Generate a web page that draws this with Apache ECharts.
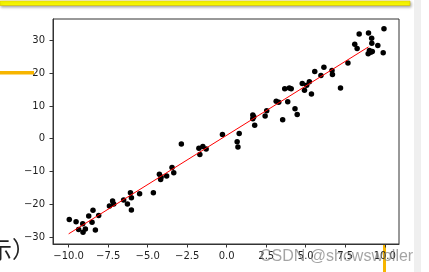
<!DOCTYPE html>
<html>
<head>
<meta charset="utf-8">
<script src="https://cdn.jsdelivr.net/npm/echarts@6/dist/echarts.min.js"></script>
<style>html,body{margin:0;padding:0;background:#fff;}#c{width:429px;height:272px;}</style>
</head>
<body>
<div id="c"></div>
<script>
const pointX = [-9.96,-9.53,-9.37,-9.11,-9.09,-8.94,-8.73,-8.52,-8.46,-8.31,-8.10,-7.42,-7.22,-7.15,-6.52,-6.28,-6.09,-6.03,-6.03,-5.51,-4.64,-4.26,-4.18,-4.15,-3.80,-3.46,-3.35,-2.87,-1.76,-1.70,-1.51,-1.30,-0.27,0.66,0.71,0.79,1.65,1.65,1.71,1.77,2.43,2.53,3.13,3.29,3.54,3.67,3.86,3.96,4.08,4.32,4.46,4.78,4.92,5.06,5.23,5.36,5.57,5.96,6.15,6.66,6.69,7.20,7.67,8.10,8.25,8.38,8.97,9.17,9.18,9.03,9.11,9.21,8.95,9.56,9.90,9.95];
const pointY = [-24.6,-25.3,-27.7,-25.9,-28.5,-27.5,-23.6,-25.5,-21.8,-27.8,-23.4,-20.5,-19.0,-19.9,-18.7,-19.9,-16.5,-18.0,-21.7,-16.8,-16.5,-10.8,-12.4,-11.7,-11.4,-8.8,-10.4,-1.6,-2.9,-4.8,-2.4,-3.1,1.3,-0.9,-2.5,1.6,7.2,6.1,6.7,4.1,6.9,8.5,11.4,11.1,5.8,15.2,11.3,15.5,15.2,9.1,7.4,16.8,14.8,16.3,17.4,13.6,20.5,19.3,21.8,20.8,19.6,15.5,23.1,28.8,27.5,31.9,32.2,30.6,29.1,26.9,26.4,26.6,25.9,28.4,26.2,33.5];
const fitX = [-10.0, 8.97];
const fitY = [-29.0, 28.0];
const xTicks = [-10, -7.5, -5, -2.5, 0, 2.5, 5, 7.5, 10];
const yTicks = [-30, -20, -10, 0, 10, 20, 30];

const chart = echarts.init(document.getElementById('c'), null, {renderer: 'canvas'});
const tickFont = {fontFamily: 'DejaVu Sans', fontSize: 10, color: '#1f1f1f'};
chart.setOption({
  animation: false,
  backgroundColor: '#fff',
  grid: {left: 53, right: 30, top: 19, bottom: 28, show: true, borderColor: '#333', borderWidth: 1, backgroundColor: 'transparent'},
  xAxis: {
    type: 'value', min: -10.99, max: 10.9,
    splitLine: {show: false},
    axisLine: {show: true, onZero: false, lineStyle: {color: '#333', width: 1}},
    axisTick: {show: true, length: 3.5, lineStyle: {color: '#333'}, customValues: xTicks},
    axisLabel: Object.assign({margin: 7, customValues: xTicks, formatter: v => v.toFixed(1).replace('-', '\u2212')}, tickFont)
  },
  yAxis: {
    type: 'value', min: -32.1, max: 36.5,
    splitLine: {show: false},
    axisLine: {show: true, onZero: false, lineStyle: {color: '#333', width: 1}},
    axisTick: {show: true, length: 3.5, lineStyle: {color: '#333'}, customValues: yTicks},
    axisLabel: Object.assign({margin: 8, customValues: yTicks, formatter: v => String(v).replace('-', '\u2212')}, tickFont)
  },
  series: [
    {type: 'scatter', symbolSize: 5.5, itemStyle: {color: '#000', opacity: 1}, data: pointX.map((x, i) => [x, pointY[i]]), z: 3},
    {type: 'line', symbol: 'none', lineStyle: {color: '#ff0000', width: 1}, data: fitX.map((x, i) => [x, fitY[i]]), z: 4}
  ],
  graphic: [
    {type: 'rect', z: -1, shape: {x: 414, y: 0, width: 7, height: 272}, style: {fill: '#efefef'}},
    {type: 'rect', z: 5, shape: {x: 0, y: 1, width: 410, height: 4.5}, style: {fill: '#ffff00', stroke: '#d6c000', lineWidth: 0.6, shadowBlur: 3, shadowColor: 'rgba(0,0,0,0.35)', shadowOffsetX: 1, shadowOffsetY: 1.5}},
    {type: 'rect', z: -1, shape: {x: 0, y: 71, width: 34, height: 3.5}, style: {fill: '#f7b500'}},
    {type: 'rect', z: -1, shape: {x: 383, y: 244.5, width: 3, height: 28}, style: {fill: '#f7b500'}},
    {type: 'text', z: 5, x: -11, y: 238, style: {text: '示）', font: '23px "Noto Sans CJK SC"', fill: '#222'}},
    {type: 'text', z: 100, x: 260, y: 249, style: {text: 'CSDN @showswoller', font: '16px "Liberation Sans"', fill: 'rgba(125,125,125,0.7)'}}
  ]
});
</script>
</body>
</html>
